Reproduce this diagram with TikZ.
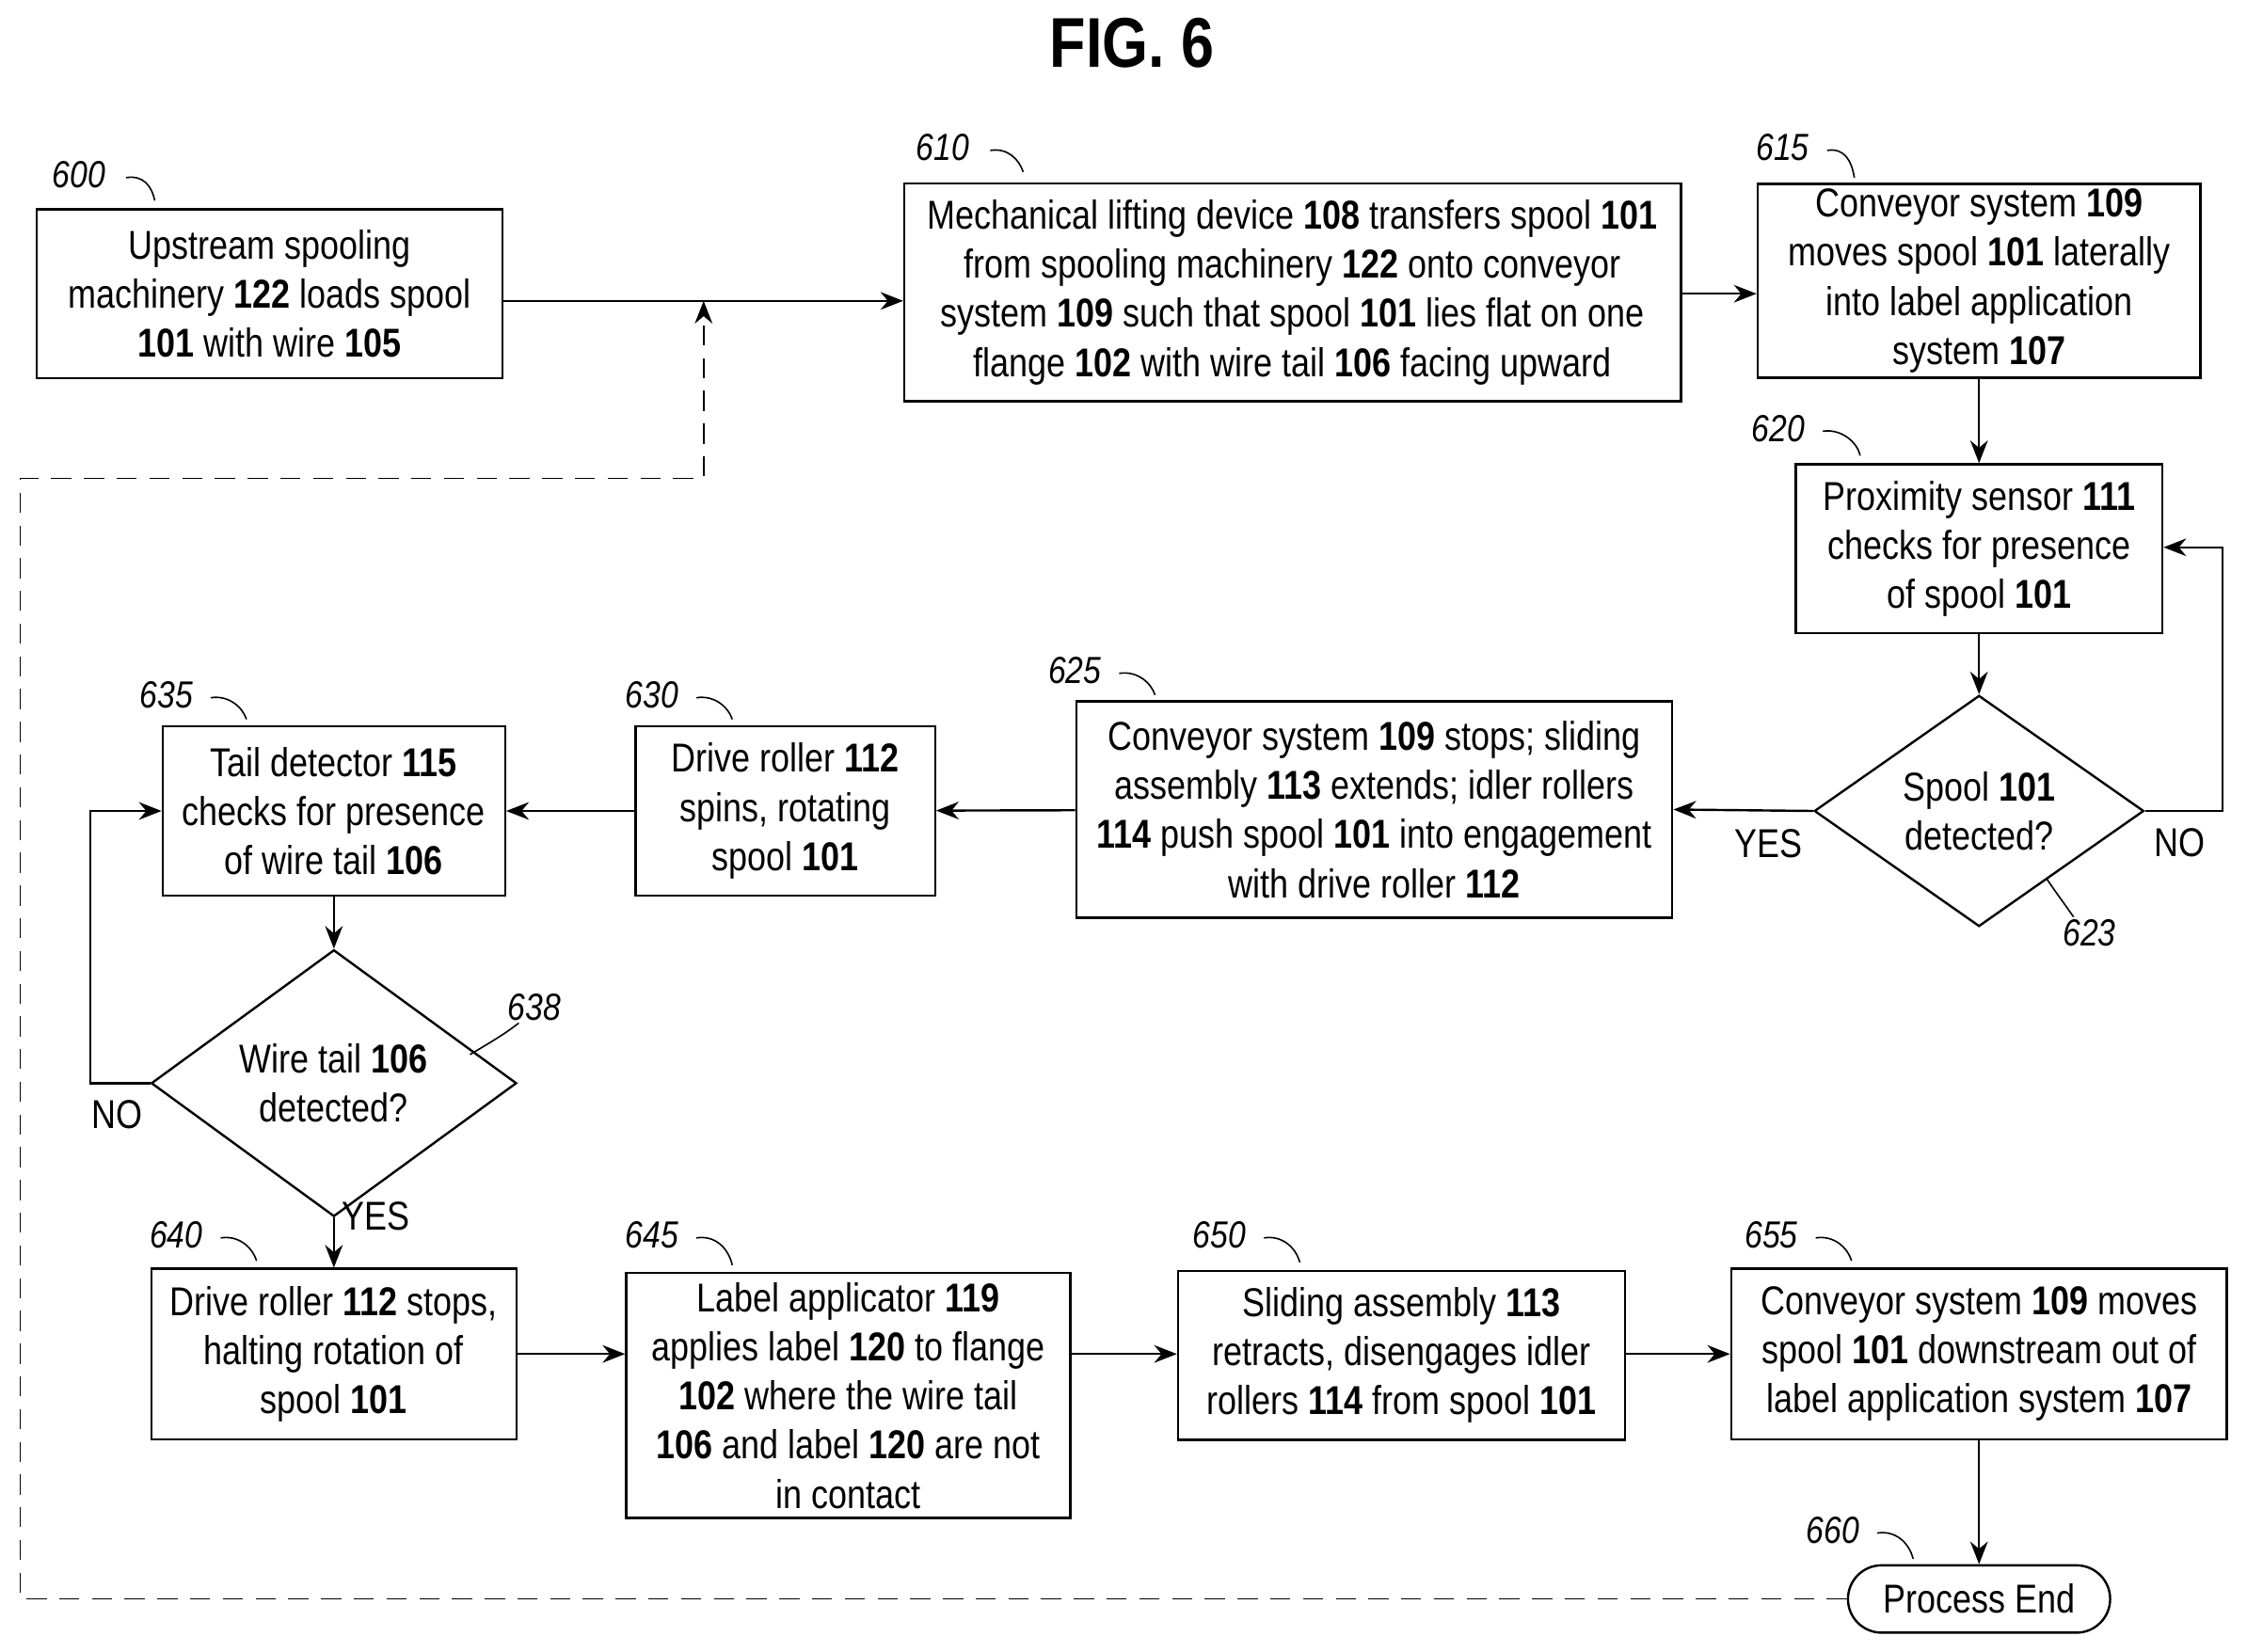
\documentclass[tikz,border=0pt]{standalone}
\usepackage{fontspec}
\setmainfont[FakeStretch=0.84]{Liberation Sans}
\usetikzlibrary{shapes.geometric,arrows.meta}
\begin{document}
\begin{tikzpicture}[x=0.02cm,y=-0.02cm,line width=0.9pt,
  every node/.style={font=\fontsize{16}{19.5}\selectfont},
  box/.style={draw,align=center,inner sep=2pt},
  dia/.style={draw,diamond,align=center,inner sep=0pt},
  arr/.style={-{Stealth[length=9pt,width=7pt]}},
  ref/.style={font=\fontsize{15}{18}\selectfont\itshape},
  tick/.style={line width=0.6pt}]
\useasboundingbox (0,0) rectangle (1568,1153);
\node[font=\fontsize{28}{32}\selectfont\bfseries] (title) at (790,30) {FIG. 6};
\node[box,minimum width=6.5cm,minimum height=2.36cm] (b600) at (188,205) {Upstream spooling\\machinery \textbf{122} loads spool\\\textbf{101} with wire \textbf{105}};
\node[box,minimum width=10.84cm,minimum height=3.04cm] (b610) at (902,204) {Mechanical lifting device \textbf{108} transfers spool \textbf{101}\\from spooling machinery \textbf{122} onto conveyor\\system \textbf{109} such that spool \textbf{101} lies flat on one\\flange \textbf{102} with wire tail \textbf{106} facing upward};
\node[box,minimum width=6.18cm,minimum height=2.66cm] (b615) at (1381,196) {Conveyor system \textbf{109}\\moves spool \textbf{101} laterally\\into label application\\system \textbf{107}};
\node[box,minimum width=5.12cm,minimum height=2.36cm] (b620) at (1381,383) {Proximity sensor \textbf{111}\\checks for presence\\of spool \textbf{101}};
\node[dia,minimum width=4.6cm,minimum height=2.94cm] (d623) at (1381,566) {Spool \textbf{101}\\detected?};
\node[box,minimum width=8.32cm,minimum height=3.02cm] (b625) at (959,565) {Conveyor system \textbf{109} stops; sliding\\assembly \textbf{113} extends; idler rollers\\\textbf{114} push spool \textbf{101} into engagement\\with drive roller \textbf{112}};
\node[box,minimum width=4.18cm,minimum height=2.36cm] (b630) at (548,566) {Drive roller \textbf{112}\\spins, rotating\\spool \textbf{101}};
\node[box,minimum width=4.78cm,minimum height=2.36cm] (b635) at (233,566) {Tail detector \textbf{115}\\checks for presence\\of wire tail \textbf{106}};
\node[dia,minimum width=5.1cm,minimum height=2.92cm] (d638) at (233,756) {Wire tail \textbf{106}\\detected?};
\node[box,minimum width=5.1cm,minimum height=2.38cm] (b640) at (233,945) {Drive roller \textbf{112} stops,\\halting rotation of\\spool \textbf{101}};
\node[box,minimum width=6.2cm,minimum height=3.42cm] (b645) at (592,974) {Label applicator \textbf{119}\\applies label \textbf{120} to flange\\\textbf{102} where the wire tail\\\textbf{106} and label \textbf{120} are not\\in contact};
\node[box,minimum width=6.24cm,minimum height=2.36cm] (b650) at (978,946) {Sliding assembly \textbf{113}\\retracts, disengages idler\\rollers \textbf{114} from spool \textbf{101}};
\node[box,minimum width=6.92cm,minimum height=2.38cm] (b655) at (1381,945) {Conveyor system \textbf{109} moves\\spool \textbf{101} downstream out of\\label application system \textbf{107}};
\node[draw,rounded corners=0.47cm,minimum width=3.66cm,minimum height=0.94cm] (b660) at (1381,1116) {Process End};
% arrows
\coordinate (m) at (491,210);
\draw[arr] (b600.east |- m) -- (b610.west |- m);
\draw[arr] (b610.east |- 0,205) -- (b615.west |- 0,205);
\draw[arr] (b615) -- (b620);
\draw[arr] (b620) -- (d623);
\draw[arr] (d623.east) -- (1551,566) -- (1551,382) -- (b620.east |- 0,382);
\draw[arr] (d623.west) -- (b625.east);
\draw[arr] (b625) -- (b630);
\draw[arr] (b630) -- (b635);
\draw[arr] (b635) -- (d638);
\draw[arr] (d638.west) -- (63,756) -- (63,566) -- (b635.west);
\draw[arr] (d638.south) -- (b640.north);
\draw[arr] (b640.east |- 0,945) -- (b645.west |- 0,945);
\draw[arr] (b645.east |- 0,945) -- (b650.west |- 0,945);
\draw[arr] (b650.east |- 0,945) -- (b655.west |- 0,945);
\draw[arr] (b655) -- (b660);
\draw[arr,dashed,line width=0.6pt,dash pattern=on 8pt off 5pt] (b660.west) -- (14,1116) -- (14,334) -- (491,334) -- (m);
% labels
\node (yes1) at (1234,589) {YES};
\node (no1) at (1521,588) {NO};
\node (no2) at (82,778) {NO};
\node (yes2) at (262,849) {YES};
% reference numbers
\node[ref] (r600) at (55,122) {600};
\draw[tick] (88,124) .. controls (100,122) and (106,130) .. (108,140);
\node[ref] (r610) at (658,103) {610};
\draw[tick] (691,105) .. controls (703,103) and (711,111) .. (714,120);
\node[ref] (r615) at (1244,103) {615};
\draw[tick] (1275,105) .. controls (1287,103) and (1292,112) .. (1294,124);
\node[ref] (r620) at (1241,299) {620};
\draw[tick] (1272,301) .. controls (1284,299) and (1296,308) .. (1298,318);
\node[ref] (r625) at (750,468) {625};
\draw[tick] (781,470) .. controls (793,468) and (803,476) .. (806,485);
\node[ref] (r630) at (455,485) {630};
\draw[tick] (486,487) .. controls (498,485) and (508,493) .. (511,502);
\node[ref] (r635) at (116,485) {635};
\draw[tick] (147,487) .. controls (159,485) and (169,493) .. (172,502);
\node[ref] (r638) at (373,703) {638};
\draw[tick] (362,714) .. controls (352,722) and (338,730) .. (328,736);
\node[ref] (r623) at (1458,651) {623};
\draw[tick] (1447,640) .. controls (1440,630) and (1434,622) .. (1428,613);
\node[ref] (r640) at (123,862) {640};
\draw[tick] (154,864) .. controls (166,862) and (176,870) .. (179,880);
\node[ref] (r645) at (455,862) {645};
\draw[tick] (486,864) .. controls (498,862) and (508,870) .. (511,883);
\node[ref] (r650) at (851,862) {650};
\draw[tick] (882,864) .. controls (894,862) and (904,870) .. (907,881);
\node[ref] (r655) at (1236,862) {655};
\draw[tick] (1267,864) .. controls (1279,862) and (1289,870) .. (1292,880);
\node[ref] (r660) at (1279,1068) {660};
\draw[tick] (1310,1070) .. controls (1322,1068) and (1332,1076) .. (1335,1088);
\end{tikzpicture}
\end{document}
